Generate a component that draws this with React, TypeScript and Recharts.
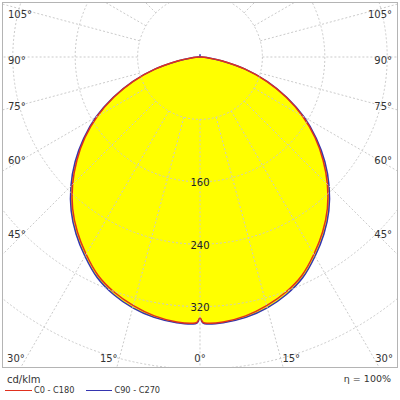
import React from "react";
import {
  PolarAngleAxis,
  PolarGrid,
  PolarRadiusAxis,
  Radar,
  RadarChart,
} from "recharts";

// gamma angles of the measured half profile (0 = straight down)
const gammaAngles = [
  0, 1, 5, 10, 15, 20, 25, 30, 35, 40, 45, 50, 55, 60, 65, 70, 75, 80, 85, 90,
  95, 100, 105, 110, 115, 120, 125, 130, 135, 140, 145, 150, 155, 160, 165,
  170, 175, 180,
];
// cd/klm
const c0c180 = [
  335, 341, 341, 337, 330, 321, 309, 292, 274, 254, 231, 206, 180, 152, 122,
  91, 59, 28, 8, 1, 0, 0, 0, 0, 0, 0, 0, 0, 0, 0, 0, 0, 0, 0, 0, 0, 0, 0,
];
const c90c270 = [
  335, 342, 342, 339, 333, 324, 312, 295, 277, 257, 234, 209, 182, 154, 123,
  92, 60, 29, 9, 1, 0, 0, 0, 0, 0, 0, 0, 0, 0, 0, 0, 0, 0, 0, 0, 0, 0, 3,
];
const gridAngles = [
  0, 15, 30, 45, 60, 75, 90, 105, 120, 135, 150, 165, 180, 195, 210, 225, 240,
  255, 270, 285, 300, 315, 330, 345,
];
const radiusTicks = [80, 160, 240, 320, 400, 480];
const radiusLabels = [160, 240, 320];
const maxLabelledAngle = 105;

// full turn: left half one plane, right half the opposite one
const positions = [
  ...gammaAngles,
  ...gammaAngles.slice(1, -1).reverse().map((g) => 360 - g),
];
const curveData = positions.map((pos) => {
  const g = pos <= 180 ? pos : 360 - pos;
  const i = gammaAngles.indexOf(g);
  return { pos, c0: c0c180[i], c90: c90c270[i] };
});
const gridData = gridAngles.map((pos) => ({ pos }));

const W = 394;
const H = 364;
const CX = 197;
const CY = 54;
const PX_PER_UNIT = 0.78;
const MAX_R = radiusTicks[radiusTicks.length - 1];
const OUTER = MAX_R * PX_PER_UNIT;
const INNER = radiusTicks[0] * PX_PER_UNIT;

const FONT = "'DejaVu Sans', Verdana, sans-serif";
const GRID = "#cbcbcb";
const TEXT = "#333";
const RED = "#e0301e";
const BLUE = "#3535b0";

const EDGE_LEFT = 23;
const EDGE_RIGHT = W - 23;
const EDGE_BOTTOM = 354;

// closed Catmull-Rom through the points Recharts computed
const smoothClosed = (pts: { x: number; y: number }[]) => {
  const n = pts.length;
  if (!n) return "";
  let d = `M${pts[0].x},${pts[0].y}`;
  for (let i = 0; i < n; i++) {
    const p0 = pts[(i - 1 + n) % n];
    const p1 = pts[i];
    const p2 = pts[(i + 1) % n];
    const p3 = pts[(i + 2) % n];
    const c1x = p1.x + (p2.x - p0.x) / 6;
    const c1y = p1.y + (p2.y - p0.y) / 6;
    const c2x = p2.x - (p3.x - p1.x) / 6;
    const c2y = p2.y - (p3.y - p1.y) / 6;
    d += `C${c1x},${c1y} ${c2x},${c2y} ${p2.x},${p2.y}`;
  }
  return d + "Z";
};

const smoothShape = (fill: string, stroke: string) => (props: any) => (
  <path
    d={smoothClosed(props.points || [])}
    fill={fill}
    stroke={stroke}
    strokeWidth={1.5}
    strokeLinejoin="round"
  />
);

const AngleTick = (props: any) => {
  const { payload } = props;
  const pos: number = payload.value;
  const gamma = pos <= 180 ? pos : 360 - pos;
  if (gamma > maxLabelledAngle) return <g />;
  const rad = (payload.coordinate * Math.PI) / 180;
  const ux = Math.cos(rad);
  const uy = -Math.sin(rad);
  let x = CX;
  let y = EDGE_BOTTOM + 1;
  let anchor: "start" | "middle" | "end" = "middle";
  const onSide = Math.abs(ux) > 1e-6;
  const ySide = onSide
    ? CY + (((ux < 0 ? EDGE_LEFT : EDGE_RIGHT) - CX) / ux) * uy
    : Infinity;
  if (onSide && ySide < EDGE_BOTTOM) {
    x = ux < 0 ? 5 : W - 5;
    y = Math.max(ySide + 3, 11);
    anchor = ux < 0 ? "start" : "end";
  } else if (onSide) {
    const xb = CX + ((EDGE_BOTTOM - CY) / uy) * ux;
    x = ux < 0 ? xb - 2 : xb + 2;
    anchor = ux < 0 ? "end" : "start";
  }
  return (
    <text
      x={x}
      y={y}
      textAnchor={anchor}
      dominantBaseline="central"
      fontSize={10}
      fontFamily={FONT}
      fill={TEXT}
    >
      {`${gamma}°`}
    </text>
  );
};

const RadiusTick = (props: any) => {
  const { x, y, payload } = props;
  if (!radiusLabels.includes(payload.value)) return <g />;
  return (
    <text
      x={x}
      y={y + 1}
      textAnchor="middle"
      dominantBaseline="central"
      fontSize={10}
      fontFamily={FONT}
      fill="#222"
    >
      {payload.value}
    </text>
  );
};

const margin = { top: 0, right: 0, bottom: 0, left: 0 };

const App: React.FC = () => {
  return (
    <div
      style={{
        position: "absolute",
        left: 0,
        top: 0,
        width: 400,
        height: 400,
        background: "#fff",
        fontFamily: FONT,
      }}
    >
      <div
        style={{
          position: "absolute",
          left: 2,
          top: 2,
          width: 396,
          height: 366,
          boxSizing: "border-box",
          border: "1px solid #b4b4b4",
          overflow: "hidden",
        }}
      >
        <div style={{ position: "absolute", left: 0, top: 0 }}>
          <RadarChart
            width={W}
            height={H}
            data={curveData}
            cx={CX}
            cy={CY}
            innerRadius={0}
            outerRadius={OUTER}
            startAngle={-90}
            endAngle={-450}
            margin={margin}
          >
            <PolarAngleAxis
              dataKey="pos"
              type="number"
              domain={[0, 360]}
              tick={false}
              axisLine={false}
              tickLine={false}
            />
            <PolarRadiusAxis
              domain={[0, MAX_R]}
              allowDataOverflow
              tick={false}
              axisLine={false}
            />
            <Radar
              name="C90 - C270"
              dataKey="c90"
              shape={smoothShape("#ffff00", BLUE)}
              isAnimationActive={false}
            />
            <Radar
              name="C0 - C180"
              dataKey="c0"
              shape={smoothShape("none", RED)}
              isAnimationActive={false}
            />
          </RadarChart>
        </div>
        <div style={{ position: "absolute", left: 0, top: 0 }}>
          <RadarChart
            width={W}
            height={H}
            data={gridData}
            cx={CX}
            cy={CY}
            innerRadius={INNER}
            outerRadius={OUTER}
            startAngle={-90}
            endAngle={-450}
            margin={margin}
          >
            <PolarGrid gridType="circle" stroke={GRID} strokeDasharray="2 2" />
            <PolarAngleAxis
              dataKey="pos"
              axisLine={false}
              tickLine={false}
              tick={AngleTick}
            />
            <PolarRadiusAxis
              angle={-90}
              type="number"
              domain={[radiusTicks[0], MAX_R]}
              allowDataOverflow
              ticks={radiusTicks}
              tickCount={radiusTicks.length}
              axisLine={false}
              tickLine={false}
              tick={RadiusTick}
            />
          </RadarChart>
        </div>
      </div>
      <div
        style={{
          position: "absolute",
          left: 7,
          top: 373,
          fontSize: 10,
          color: TEXT,
          lineHeight: "14px",
        }}
      >
        cd/klm
      </div>
      <div
        style={{
          position: "absolute",
          right: 9,
          top: 372,
          fontSize: 9.5,
          color: TEXT,
          lineHeight: "14px",
        }}
      >
        η = 100%
      </div>
      <div
        style={{
          position: "absolute",
          left: 5,
          top: 384,
          display: "flex",
          alignItems: "center",
          fontSize: 8.2,
          color: TEXT,
          lineHeight: "12px",
        }}
      >
        <span style={{ width: 27, height: 1, background: RED, marginRight: 2 }} />
        <span>C0 - C180</span>
        <span style={{ width: 26, height: 1, background: BLUE, marginLeft: 12, marginRight: 2 }} />
        <span>C90 - C270</span>
      </div>
    </div>
  );
};

export default App;
